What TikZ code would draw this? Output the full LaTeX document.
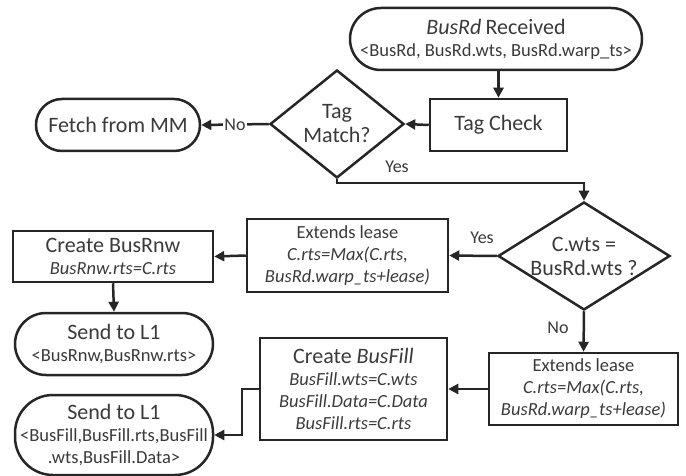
\documentclass[tikz,border=0pt]{standalone}
\usepackage{fontspec}
\setmainfont{Carlito}
\usetikzlibrary{arrows.meta,shapes.geometric}
\definecolor{ink}{HTML}{262626}
\definecolor{txt}{HTML}{3A3A3A}

\newcommand{\bigtxt}{\fontsize{22}{24}\selectfont}
\newcommand{\smalltxt}{\fontsize{18.5}{22}\selectfont}

\begin{document}
\begin{tikzpicture}[x=1pt,y=-1pt,
  box/.style={draw=ink, line width=2.5pt, rectangle, inner sep=0pt, align=center, text=txt, font=\smalltxt},
  term/.style={box, rounded corners=#1},
  decision/.style={draw=ink, line width=2.5pt, diamond, inner sep=0pt},
  dtext/.style={text=txt, font=\bigtxt, align=center, inner sep=0pt},
  flow/.style={draw=ink, line width=2.5pt, -{Triangle[length=10pt,width=10pt]}},
  lbl/.style={text=txt, font=\fontsize{18}{20}\selectfont, inner sep=1pt}]
\useasboundingbox (0,0) rectangle (686,476);

% start and lookup
\node[term=31pt, minimum width=292pt, minimum height=62pt] (recv) at (496,39)
  {{\bigtxt\itshape BusRd} {\bigtxt Received}\\\makebox[280pt][c]{<BusRd, BusRd.wts, BusRd.warp\_ts>}};
\node[box, font=\bigtxt, minimum width=137pt, minimum height=52pt] (chk) at (498.5,125) {Tag Check};
\node[decision, minimum width=134pt, minimum height=108pt,
  label={[dtext]center:Tag\\Match?}] (tm) at (337,124) {};
\node[term=26pt, font=\bigtxt, minimum width=164pt, minimum height=52pt] (fetch) at (118,125) {Fetch from MM};

% timestamp comparison
\node[decision, minimum width=172pt, minimum height=108pt,
  label={[dtext]center:C.wts =\\BusRd.wts ?}] (cw) at (584,256) {};

% renew branch
\node[box, minimum width=201pt, minimum height=73pt] (ext1) at (347.5,255.5)
  {Extends lease\\{\itshape C.rts=Max(C.rts,}\\{\itshape BusRd.warp\_ts+lease)}};
\node[box, minimum width=200pt, minimum height=51pt] (rnw) at (113,256.5)
  {{\bigtxt Create BusRnw}\\{\itshape BusRnw.rts=C.rts}};
\node[term=31pt, minimum width=198pt, minimum height=62pt] (s1) at (114,344)
  {{\bigtxt Send to L1}\\<BusRnw,BusRnw.rts>};

% fill branch
\node[box, minimum width=189pt, minimum height=72pt] (ext2) at (583.5,389)
  {Extends lease\\{\itshape C.rts=Max(C.rts,}\\{\itshape BusRd.warp\_ts+lease)}};
\node[box, minimum width=187pt, minimum height=102pt] (fill) at (353.5,389)
  {{\bigtxt Create \itshape BusFill}\\{\itshape BusFill.wts=C.wts}\\{\itshape BusFill.Data=C.Data}\\{\itshape BusFill.rts=C.rts}};
\node[term=38pt, minimum width=198pt, minimum height=80pt] (s2) at (114,435)
  {{\bigtxt Send to L1}\\\makebox[190pt][c]{<BusFill,BusFill.rts,BusFill}\\.wts,BusFill.Data>};

% connectors
\draw[flow] (chk.north |- recv.south) -- (chk.north);
\draw[flow] (chk.west) -- (tm.east);
\draw[flow] (tm.west) -- node[lbl, fill=white] (lno) {No} (fetch.east);
\coordinate (ybend) at (337,183);
\draw[flow] (tm.south) -- (tm.south |- ybend) -| (cw.north);
\node[lbl] (lyes1) at (397,167) {Yes};
\draw[flow] (cw.west) -- (ext1.east);
\node[lbl] (lyes2) at (482,238) {Yes};
\draw[flow] (ext1.west) -- (rnw.east);
\draw[flow] (rnw.south) -- (s1.north);
\draw[flow] (cw.south) -- (ext2.north);
\node[lbl] (lno2) at (558,328) {No};
\draw[flow] (ext2.west) -- (fill.east);
\draw[flow] (fill.west) -- ++(-17,0) |- (s2.east);
\end{tikzpicture}
\end{document}
